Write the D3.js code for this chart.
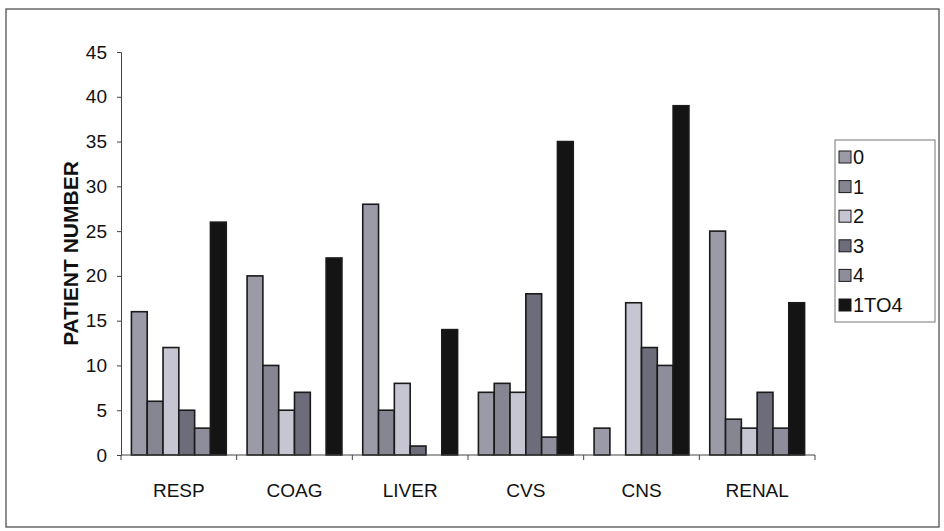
<!DOCTYPE html>
<html>
<head>
<meta charset="utf-8">
<script src="https://cdn.jsdelivr.net/npm/d3@7"></script>
<style>
  body { margin: 0; background: #fff; }
  text { font-family: "Liberation Sans", Arial, sans-serif; fill: #111; }
</style>
</head>
<body>
<div id="chart"></div>
<script>
// categorias e series
var categories = ["RESP", "COAG", "LIVER", "CVS", "CNS", "RENAL"];
var seriesNames = ["0", "1", "2", "3", "4", "1TO4"];
var s0   = [16, 20, 28, 7, 3, 25];
var s1   = [6, 10, 5, 8, 0, 4];
var s2   = [12, 5, 8, 7, 17, 3];
var s3   = [5, 7, 1, 18, 12, 7];
var s4   = [3, 0, 0, 2, 10, 3];
var s1to4 = [26, 22, 14, 35, 39, 17];
var yTicks = [0, 5, 10, 15, 20, 25, 30, 35, 40, 45];
var colors = ["#9b9ba8", "#868693", "#c6c6d2", "#6c6c7b", "#8d8d9b", "#141414"];

var allSeries = [s0, s1, s2, s3, s4, s1to4];

var W = 944, H = 531;
var margin = { top: 52, left: 121, right: 129, bottom: 76 };
var width = W - margin.left - margin.right;
var height = H - margin.top - margin.bottom;

var svg = d3.select("#chart").append("svg")
    .attr("width", W).attr("height", H);

// moldura externa
svg.append("rect")
   .attr("x", 6).attr("y", 9).attr("width", 933).attr("height", 518)
   .attr("fill", "none").attr("stroke", "#444").attr("stroke-width", 1.2);

var g = svg.append("g")
    .attr("transform", "translate(" + margin.left + "," + margin.top + ")");

var x0 = d3.scaleBand().domain(categories).range([0, width]).paddingInner(0.18).paddingOuter(0.09);
var x1 = d3.scaleBand().domain(seriesNames).range([0, x0.bandwidth()]);
var y = d3.scaleLinear().domain([0, 45]).range([height, 0]);

// barras
seriesNames.forEach(function(name, i) {
    g.selectAll(".bar-" + i)
     .data(categories.map(function(c, j) { return { cat: c, v: allSeries[i][j] }; }))
     .enter().append("rect")
     .attr("x", function(d) { return x0(d.cat) + x1(name); })
     .attr("y", function(d) { return y(d.v); })
     .attr("width", x1.bandwidth())
     .attr("height", function(d) { return height - y(d.v); })
     .attr("fill", colors[i])
     .attr("stroke", function(d) { return d.v > 0 ? "#1a1a1a" : "none"; })
     .attr("stroke-width", 1.6);
});

// eixo y
var yAxis = g.append("g")
   .call(d3.axisLeft(y).tickValues(yTicks).tickSize(4).tickPadding(10));
yAxis.selectAll("text").style("font-size", "19px");
yAxis.select(".domain").attr("stroke", "#444");
yAxis.selectAll(".tick line").attr("stroke", "#444");

// eixo x
var xEdges = d3.range(categories.length + 1).map(function(k) { return k * width / categories.length; });
g.append("line")
 .attr("x1", 0).attr("x2", width).attr("y1", height).attr("y2", height)
 .attr("stroke", "#444");
g.selectAll(".xtick").data(xEdges).enter().append("line")
 .attr("x1", function(d) { return d; }).attr("x2", function(d) { return d; })
 .attr("y1", height).attr("y2", height + 5)
 .attr("stroke", "#444");
g.selectAll(".xlabel").data(categories).enter().append("text")
 .attr("x", function(d) { return x0(d) + x0.bandwidth() / 2; })
 .attr("y", height + 42)
 .attr("text-anchor", "middle")
 .style("font-size", "19px")
 .text(function(d) { return d; });

// rotulo eixo y
svg.append("text")
   .attr("transform", "translate(78," + (margin.top + height / 2) + ") rotate(-90)")
   .attr("text-anchor", "middle")
   .style("font-size", "21px").style("font-weight", "bold")
   .text("PATIENT NUMBER");

// legenda
var legend = svg.append("g").attr("transform", "translate(835,140)");
legend.append("rect")
   .attr("width", 100).attr("height", 182)
   .attr("fill", "#fff").attr("stroke", "#777");
seriesNames.forEach(function(name, i) {
    var row = legend.append("g").attr("transform", "translate(4," + (17 + i * 29.6) + ")");
    row.append("rect")
       .attr("x", 0).attr("y", -6).attr("width", 12).attr("height", 12)
       .attr("fill", colors[i]).attr("stroke", "#1a1a1a");
    row.append("text")
       .attr("x", 14).attr("y", 7)
       .style("font-size", "20px")
       .text(name);
});
</script>
</body>
</html>
